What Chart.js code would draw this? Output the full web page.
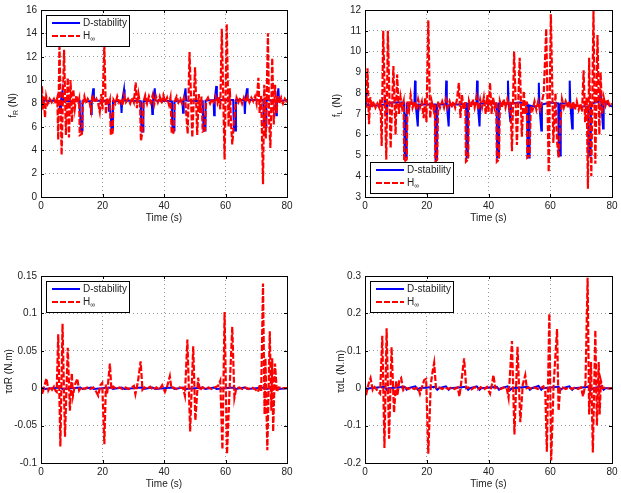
<!DOCTYPE html>
<html><head><meta charset="utf-8">
<script src="https://cdn.jsdelivr.net/npm/chart.js@4"></script>
<style>
body{margin:0;background:#fff;width:621px;height:493px;position:relative;overflow:hidden}
canvas{position:absolute;display:block}
</style></head><body>
<canvas id="c1" width="310" height="240" style="left:0px;top:0px"></canvas>
<canvas id="c2" width="297" height="240" style="left:324px;top:0px"></canvas>
<canvas id="c3" width="310" height="227" style="left:0px;top:266px"></canvas>
<canvas id="c4" width="297" height="227" style="left:324px;top:266px"></canvas>
<script>
// ---------- DATA ----------
const seriesNames = ['D-stability', 'H∞'];
const xTicks = [0, 20, 40, 60, 80];
const fR_yTicks = [0, 2, 4, 6, 8, 10, 12, 14, 16];
const fL_yTicks = [3, 4, 5, 6, 7, 8, 9, 10, 11, 12];
const tR_yTicks = [-0.1, -0.05, 0, 0.05, 0.1, 0.15];
const tL_yTicks = [-0.2, -0.1, 0, 0.1, 0.2, 0.3];

// f_R : [time (s), value (N)]
const fR_Dstab = [[0,7.6],[0.2,8.7],[0.5,8.1],[1.2,8.3],[2,8.2],[4,8.25],[6.0,8.2],[6.3,7.2],[6.5,8.3],[7.0,9.1],[7.2,8.2],[9,8.2],[12.5,8.25],[12.6,7.3],[12.8,6.9],[13.0,5.7],[13.4,5.7],[13.5,8.2],[16.1,8.2],[16.3,7.1],[16.5,8.2],[17.0,9.3],[17.2,8.25],[22.0,8.2],[22.1,7.3],[22.3,8.1],[22.7,7.0],[22.9,5.8],[23.3,5.8],[23.4,8.2],[26.0,8.2],[26.2,7.2],[26.4,8.2],[27.0,9.2],[27.2,8.25],[32.4,8.2],[32.5,7.1],[32.7,5.6],[33.2,5.6],[33.3,8.2],[36.0,8.2],[36.2,7.1],[36.4,8.2],[37.0,9.3],[37.2,8.25],[42.5,8.2],[42.6,7.0],[42.8,5.7],[43.3,5.7],[43.4,8.2],[46.0,8.2],[46.2,7.2],[46.4,8.2],[47.0,9.3],[47.2,8.25],[52.6,8.2],[52.7,7.0],[52.9,5.7],[53.4,5.7],[53.5,8.25],[56.1,8.3],[56.3,7.0],[56.5,8.3],[57.0,9.5],[57.2,8.3],[62.5,8.3],[62.6,7.0],[62.8,5.7],[63.3,5.7],[63.4,8.3],[66.1,8.3],[66.3,7.1],[66.5,8.3],[67.0,9.3],[67.2,8.3],[72.3,8.3],[72.4,7.0],[72.7,6.0],[73.2,6.0],[73.3,8.3],[76.3,8.2],[76.5,7.0],[76.7,8.2],[77.2,9.3],[77.4,8.2],[80,8.3]];
const fR_Hinf = [[0,7.6],[0.3,9.5],[0.6,7.5],[0.9,8.6],[1.3,6.8],[1.7,8.6],[2.2,8.0],[2.8,8.4],[3.5,8.1],[4.2,8.4],[4.8,8.0],[5.3,8.5],[5.6,4.9],[6.0,13.2],[6.7,3.6],[7.5,12.6],[8.1,5.3],[8.7,10.2],[9.1,5.1],[9.6,10.0],[10.1,6.4],[10.5,9.2],[11.0,7.6],[11.5,8.7],[12.0,8.0],[12.4,8.4],[12.6,5.3],[13.3,5.4],[13.6,8.0],[14.1,8.6],[14.6,8.0],[15.2,8.4],[15.8,8.1],[16.3,7.4],[16.7,8.7],[17.3,8.1],[18.0,8.4],[18.6,8.0],[19.1,7.3],[19.6,8.8],[20.0,7.5],[20.6,13.0],[21.1,7.1],[21.5,8.5],[22.0,7.9],[22.4,8.3],[22.7,5.3],[23.3,5.5],[23.6,8.3],[24.2,8.0],[24.8,8.6],[25.4,8.1],[26.0,8.4],[26.5,7.8],[27.0,8.7],[27.6,8.1],[28.3,8.4],[29.0,8.0],[29.6,8.5],[30.2,8.1],[30.8,9.8],[31.2,7.6],[31.7,8.8],[32.2,8.0],[32.5,4.8],[33.0,5.6],[33.4,8.2],[33.9,8.7],[34.5,8.0],[35.1,8.6],[35.7,8.1],[36.3,8.7],[36.8,7.9],[37.4,8.6],[38.0,8.1],[38.6,8.6],[39.2,8.0],[39.8,8.7],[40.4,8.1],[41.0,8.5],[41.6,7.9],[42.1,8.5],[42.5,5.4],[43.1,5.5],[43.5,8.2],[44.1,8.6],[44.7,8.1],[45.3,8.4],[45.9,8.0],[46.5,8.5],[47.0,8.0],[47.7,5.4],[48.3,12.4],[49.2,5.1],[50.1,11.1],[50.8,5.3],[51.3,8.8],[51.7,7.2],[52.2,8.6],[52.6,5.6],[53.3,5.7],[53.7,8.2],[54.3,8.5],[55.0,8.0],[55.6,8.4],[56.2,8.1],[56.8,8.6],[57.4,8.0],[58.0,8.6],[58.3,7.5],[58.8,14.4],[59.7,3.2],[60.4,14.8],[61.0,6.0],[61.4,9.3],[61.8,6.3],[62.2,4.5],[62.7,6.2],[63.2,7.6],[63.6,8.5],[64.2,8.1],[64.8,8.5],[65.4,8.0],[66.0,8.5],[66.6,8.1],[67.2,8.6],[67.8,8.1],[68.4,8.5],[69.0,8.2],[69.6,8.6],[70.1,8.0],[70.7,10.2],[71.1,7.2],[71.6,8.7],[72.2,1.1],[72.6,9.6],[73.1,5.0],[73.8,14.0],[74.2,6.5],[74.6,4.2],[75.2,11.9],[75.7,6.2],[76.1,9.6],[76.6,7.2],[77.0,8.7],[77.5,8.0],[78.1,8.5],[78.7,8.0],[79.3,8.4],[80,8.1]];

// f_L : [time (s), value (N)]
const fL_Dstab = [[0,8.0],[0.3,7.45],[1.5,7.4],[4,7.4],[6.2,7.45],[6.4,7.9],[6.6,7.5],[7.1,7.0],[7.3,7.5],[9,7.55],[12.6,7.55],[12.7,7.0],[12.8,6.5],[12.9,4.9],[13.4,4.9],[13.5,7.5],[16.0,7.5],[16.2,8.6],[16.4,7.5],[17.1,6.4],[17.3,7.45],[20,7.45],[22.7,7.45],[22.8,6.9],[22.9,4.8],[23.3,4.8],[23.4,7.45],[26.1,7.45],[26.3,8.6],[26.5,7.45],[27.1,6.4],[27.3,7.45],[30,7.45],[32.7,7.5],[32.8,6.8],[32.9,4.9],[33.3,4.9],[33.4,7.5],[36.1,7.5],[36.3,8.6],[36.5,7.5],[37.1,6.4],[37.3,7.5],[42.6,7.5],[42.7,6.8],[42.8,4.9],[43.3,4.9],[43.4,7.5],[46.1,7.5],[46.3,8.6],[46.5,7.5],[47.1,6.6],[47.3,7.5],[50,7.55],[52.5,7.5],[52.6,6.8],[52.7,4.9],[53.2,4.9],[53.3,7.4],[55,7.35],[56.1,7.4],[56.3,8.5],[56.5,7.4],[57.1,6.2],[57.3,7.45],[60,7.55],[62.6,7.5],[62.7,6.8],[62.8,5.0],[63.3,5.0],[63.4,7.5],[66.1,7.5],[66.3,8.6],[66.5,7.5],[67.1,6.3],[67.3,7.45],[70,7.35],[72.3,7.35],[72.4,6.5],[72.6,5.0],[73.1,5.0],[73.2,7.5],[76.1,7.6],[76.3,8.1],[76.5,7.6],[77.1,6.3],[77.3,7.6],[80,7.35]];
const fL_Hinf = [[0,7.8],[0.4,7.3],[0.8,9.2],[1.3,6.5],[1.7,7.8],[2.2,7.3],[2.8,7.6],[3.4,7.3],[4.0,7.5],[4.6,7.3],[5.0,7.7],[5.4,5.45],[5.9,11.0],[6.9,4.8],[7.4,11.0],[8.3,5.35],[9.2,9.3],[9.9,6.0],[10.4,8.9],[11.0,7.0],[11.5,7.8],[12.0,7.3],[12.5,7.6],[12.7,4.7],[13.5,4.8],[13.8,7.6],[14.3,7.2],[14.8,7.9],[15.4,7.3],[16.0,7.6],[16.6,7.2],[17.2,7.7],[17.8,7.3],[18.4,7.6],[19.0,6.8],[19.5,7.8],[19.9,6.6],[20.5,11.5],[21.1,6.8],[21.6,7.6],[22.2,7.2],[22.6,7.5],[22.8,4.7],[23.4,4.8],[23.7,7.6],[24.3,7.3],[25.0,7.6],[25.6,7.3],[26.2,7.7],[26.8,7.3],[27.4,7.6],[28.0,7.3],[28.6,7.6],[29.2,7.3],[29.8,7.7],[30.4,8.5],[30.9,6.8],[31.4,7.9],[32.0,7.2],[32.5,7.6],[32.7,4.7],[33.4,4.8],[33.7,7.6],[34.3,7.3],[34.9,7.7],[35.5,7.3],[36.1,7.8],[36.7,7.2],[37.3,7.7],[37.9,7.3],[38.5,7.8],[39.1,7.0],[39.6,7.9],[40.0,7.1],[40.5,8.5],[41.0,7.0],[41.5,7.8],[42.0,7.3],[42.5,7.6],[42.7,4.7],[43.4,4.8],[43.7,7.6],[44.3,7.3],[44.9,7.7],[45.5,7.3],[46.1,7.7],[46.7,7.3],[47.1,7.6],[47.6,5.2],[48.3,10.0],[49.2,5.5],[50.1,9.7],[50.8,5.9],[51.4,8.1],[51.9,7.0],[52.4,7.6],[52.6,4.9],[53.3,5.0],[53.7,7.4],[54.3,7.2],[54.9,7.6],[55.5,7.2],[56.1,7.6],[56.7,7.2],[57.3,7.6],[57.9,8.0],[58.7,11.1],[59.5,4.2],[60.2,11.8],[61.0,5.6],[61.7,8.0],[62.2,5.7],[62.7,4.9],[63.3,6.6],[63.8,7.7],[64.4,7.3],[65.0,7.6],[65.6,7.3],[66.2,7.6],[66.8,7.2],[67.4,7.6],[68.0,7.2],[68.6,7.6],[69.2,7.2],[69.8,7.5],[70.3,7.1],[70.8,9.1],[71.3,6.6],[71.8,7.8],[72.2,3.4],[72.6,9.7],[73.3,4.0],[74.0,12.0],[74.6,4.6],[75.3,10.8],[75.9,6.0],[76.3,9.0],[76.8,7.0],[77.3,7.8],[77.9,7.4],[78.5,7.7],[79.2,7.4],[80,7.5]];

// tau_alpha R : [time (s), value (N.m)]
const tR_Dstab = [[0,0.001],[1,-0.001],[6.3,0.001],[7,-0.001],[12.8,0.001],[13.5,-0.001],[16.3,0.001],[17.1,-0.001],[22.7,0.001],[23.4,-0.001],[26.2,0.001],[27.1,-0.001],[32.7,0.001],[33.4,-0.001],[36.2,0.001],[37.1,-0.001],[42.7,0.001],[43.4,-0.001],[46.2,0.001],[47.1,-0.001],[52.7,0.001],[53.4,-0.001],[56.2,0.001],[57.1,-0.001],[62.7,0.001],[63.4,-0.001],[66.2,0.001],[67.1,-0.001],[72.6,0.001],[73.3,-0.001],[76.4,0.001],[77.3,-0.001],[80,0]];
const tR_Hinf = [[0,0],[0.5,-0.008],[1.0,0.002],[1.8,0.013],[2.4,-0.003],[3.0,0.002],[3.6,-0.002],[4.2,0.002],[4.8,-0.004],[5.1,-0.005],[5.6,0.072],[6.3,-0.078],[7.0,0.086],[7.8,-0.065],[8.7,0.054],[9.4,-0.03],[10.0,0.02],[10.4,-0.01],[11.0,0.004],[11.8,0.013],[12.4,-0.003],[13.0,0.001],[14,-0.001],[15,0.001],[16,-0.001],[17,0.001],[18.0,-0.005],[18.6,-0.01],[19.3,0.004],[19.9,0.007],[20.6,-0.075],[21.1,0.005],[21.5,-0.008],[22.4,0.033],[22.9,-0.002],[23.5,0.002],[24.5,-0.001],[25.5,0.001],[26.5,-0.001],[27.5,0.001],[28.5,-0.001],[29.5,0.001],[30.2,0.003],[30.7,-0.008],[31.5,0.008],[32.4,0.036],[33.0,-0.002],[33.6,0.001],[34.5,-0.001],[35.5,0.002],[36.5,-0.002],[37.5,0.001],[38.5,-0.002],[39.4,0.004],[40.3,-0.005],[41.0,0.002],[41.9,0.016],[42.4,0],[43.0,0.001],[44,-0.001],[45,0.001],[46.2,0],[46.8,-0.01],[47.6,0.065],[48.5,-0.058],[49.5,0.056],[50.2,-0.043],[51.1,0.014],[51.6,-0.003],[52.5,0.001],[53.5,-0.001],[54.5,0.001],[55.5,-0.001],[56.5,0.001],[57.6,0.003],[58.3,0.01],[59.0,-0.082],[59.7,0.102],[60.5,-0.088],[61.4,0.005],[62.2,0.082],[62.9,-0.013],[63.5,0],[64.5,0.001],[65.5,-0.001],[66.5,0.001],[67.5,-0.001],[68.5,0.001],[69.5,-0.001],[70.6,-0.005],[71.1,0.005],[71.6,-0.005],[72.2,0.14],[72.7,-0.035],[73.0,0.04],[73.6,-0.083],[74.4,0.076],[74.9,-0.03],[75.2,0.04],[75.5,-0.058],[76.1,0.033],[76.7,-0.005],[77.3,0.001],[78.5,0],[80,0]];

// tau_alpha L : [time (s), value (N.m)]
const tL_Dstab = [[0,0.004],[0.5,-0.004],[1.5,0],[6.3,0.004],[7,-0.004],[7.5,0],[12.8,0.004],[13.5,-0.004],[14,0],[16.3,0.005],[17.1,-0.004],[17.6,0],[22.7,0.004],[23.4,-0.004],[24,0],[26.2,0.005],[27.1,-0.004],[27.6,0],[32.7,0.004],[33.4,-0.004],[34,0],[36.2,0.005],[37.1,-0.004],[37.6,0],[42.7,0.004],[43.4,-0.004],[44,0],[46.2,0.005],[47.1,-0.004],[47.6,0],[52.7,0.004],[53.4,-0.004],[54,0],[56.2,0.006],[57.1,-0.004],[57.6,0],[62.7,0.004],[63.4,-0.004],[64,0],[66.2,0.005],[67.1,-0.004],[67.6,0],[72.6,0.004],[73.3,-0.004],[74,0],[76.4,0.005],[77.3,-0.004],[77.8,0],[80,0]];
const tL_Hinf = [[0,0],[0.3,-0.02],[1.1,0.01],[1.8,0.027],[2.5,-0.005],[3.1,0.003],[3.7,-0.003],[4.3,-0.01],[4.9,-0.015],[5.6,0.14],[6.3,-0.16],[7.0,0.16],[7.8,-0.135],[8.6,0.11],[9.4,-0.065],[10.1,0.02],[10.5,-0.02],[11.1,0.02],[11.7,0.027],[12.4,-0.005],[13.0,0.002],[14,-0.002],[15,0.002],[16,-0.002],[17.2,0.002],[17.8,-0.015],[18.5,0.005],[19.2,0.022],[19.8,0.025],[20.5,-0.175],[21.3,0.01],[21.9,0.045],[22.4,0.068],[23.0,0],[24,0.002],[25,-0.002],[26,0.002],[27,-0.002],[28,0.002],[29,-0.002],[30.0,0.002],[30.6,-0.022],[31.4,0.03],[32.1,0.08],[32.8,0],[33.5,0.002],[34.5,-0.003],[35.5,0.003],[36.5,-0.003],[37.5,0.003],[38.5,-0.004],[39.5,0.003],[40.5,-0.015],[41.1,0.01],[41.6,0.035],[42.2,0],[43,0.002],[44,-0.002],[45,0.002],[45.9,0],[46.5,-0.026],[47.6,0.126],[48.4,-0.124],[49.4,0.111],[50.3,-0.091],[51.1,0.01],[51.9,0.035],[52.4,0],[53,0.002],[54,-0.002],[55,0.002],[56,-0.002],[57.2,0.002],[57.8,0.005],[58.4,-0.01],[58.9,-0.17],[59.7,0.2],[60.3,-0.193],[61.1,0.01],[62.2,0.158],[62.7,-0.06],[63.2,0],[64,0.002],[65,-0.002],[66,0.002],[67,-0.002],[68,0.002],[69,-0.002],[70,0.002],[70.6,-0.022],[71.4,0.01],[72.1,0.295],[72.6,-0.07],[73.2,0.07],[73.8,-0.172],[74.6,0.155],[75.1,-0.1],[75.7,0.07],[76.0,-0.07],[76.4,0.02],[77.0,0],[78,0.002],[79,-0.001],[80,0]];

// ---------- RENDERING ----------
const FONT = '"Liberation Sans", Arial, Helvetica, sans-serif';
const BLUE = '#0000ff', RED = '#ff0000';
Chart.defaults.font.family = FONT;
Chart.defaults.font.size = 10;
Chart.defaults.color = '#222';

function toXY(arr) { return arr.map(p => ({x: p[0], y: p[1]})); }

function drawSubText(ctx, x, y, main, sub, after, size) {
  ctx.font = size + 'px ' + FONT;
  ctx.fillText(main, x, y);
  const w1 = ctx.measureText(main).width;
  ctx.font = Math.round(size * 0.72) + 'px ' + FONT;
  ctx.fillText(sub, x + w1, y + 3);
  const w2 = ctx.measureText(sub).width;
  ctx.font = size + 'px ' + FONT;
  ctx.fillText(after, x + w1 + w2, y);
}
function subTextWidth(ctx, main, sub, after, size) {
  ctx.font = size + 'px ' + FONT;
  const a = ctx.measureText(main).width + ctx.measureText(after).width;
  ctx.font = Math.round(size * 0.72) + 'px ' + FONT;
  return a + ctx.measureText(sub).width;
}

const framePlugin = {
  id: 'frame',
  afterDraw(chart, args, opts) {
    const ctx = chart.ctx, ca = chart.chartArea;
    ctx.save();
    ctx.strokeStyle = '#000'; ctx.lineWidth = 1;
    const xs = chart.scales.x, ys = chart.scales.y;
    ctx.beginPath();
    xs.ticks.forEach(t => {
      const px = Math.round(xs.getPixelForValue(t.value)) + 0.5;
      ctx.moveTo(px, ca.bottom); ctx.lineTo(px, ca.bottom - 3);
      ctx.moveTo(px, ca.top); ctx.lineTo(px, ca.top + 3);
    });
    ys.ticks.forEach(t => {
      const py = Math.round(ys.getPixelForValue(t.value)) + 0.5;
      ctx.moveTo(ca.left, py); ctx.lineTo(ca.left + 3, py);
      ctx.moveTo(ca.right, py); ctx.lineTo(ca.right - 3, py);
    });
    ctx.stroke();
    ctx.strokeRect(Math.round(ca.left) + 0.5, Math.round(ca.top) + 0.5,
                   Math.round(ca.right - ca.left), Math.round(ca.bottom - ca.top));
    ctx.fillStyle = '#222';
    ctx.textBaseline = 'middle';
    ctx.textAlign = 'left';
    const yl = opts.ylabel;
    const w = subTextWidth(ctx, yl[0], yl[1], yl[2], 10);
    ctx.save();
    ctx.translate(opts.ylabelX, (ca.top + ca.bottom) / 2 + 2);
    ctx.rotate(-Math.PI / 2);
    drawSubText(ctx, -w / 2, 0, yl[0], yl[1], yl[2], 10);
    ctx.restore();
    const bw = 83, bh = 31;
    const bx = Math.round(ca.left) + 5;
    const by = opts.legendPos === 'top' ? Math.round(ca.top) + 5 : Math.round(ca.bottom) - 4 - bh;
    ctx.fillStyle = '#fff';
    ctx.fillRect(bx, by, bw, bh);
    ctx.strokeStyle = '#000'; ctx.lineWidth = 1;
    ctx.strokeRect(bx + 0.5, by + 0.5, bw, bh);
    const y1 = by + 8, y2 = by + 21;
    ctx.lineWidth = 2;
    ctx.strokeStyle = BLUE; ctx.setLineDash([]);
    ctx.beginPath(); ctx.moveTo(bx + 6, y1); ctx.lineTo(bx + 34, y1); ctx.stroke();
    ctx.strokeStyle = RED; ctx.setLineDash([6, 2]);
    ctx.beginPath(); ctx.moveTo(bx + 6, y2); ctx.lineTo(bx + 34, y2); ctx.stroke();
    ctx.setLineDash([]);
    ctx.fillStyle = '#222';
    ctx.font = '10px ' + FONT;
    ctx.fillText(seriesNames[0], bx + 37, y1);
    drawSubText(ctx, bx + 37, y2, seriesNames[1].charAt(0), seriesNames[1].slice(1), '', 10);
    ctx.restore();
  }
};

function makeChart(id, blue, red, yTicks, ymin, ymax, padRight, padBottom, ylabel, ylabelX, legendPos, decimals) {
  return new Chart(document.getElementById(id), {
    type: 'line',
    data: {
      datasets: [
        {label: seriesNames[1], data: toXY(red), borderColor: RED, borderWidth: 2.2, borderDash: [6, 2],
         pointRadius: 0, tension: 0, fill: false},
        {label: seriesNames[0], data: toXY(blue), borderColor: BLUE, borderWidth: 2,
         pointRadius: 0, tension: 0, fill: false}
      ]
    },
    options: {
      responsive: false, animation: false, devicePixelRatio: 1,
      layout: {padding: {top: 6, left: 0, right: padRight, bottom: padBottom}},
      plugins: {legend: {display: false}, tooltip: {enabled: false},
                frame: {ylabel: ylabel, ylabelX: ylabelX, legendPos: legendPos}},
      scales: {
        x: {type: 'linear', min: 0, max: 80,
            afterBuildTicks: s => { s.ticks = xTicks.map(v => ({value: v})); },
            afterFit: s => { s.height = 29; },
            ticks: {padding: 3, maxRotation: 0, color: '#222', callback: v => String(v)},
            grid: {color: 'rgba(0,0,0,0.4)', lineWidth: 1, drawTicks: false, tickLength: 0},
            border: {display: false, dash: [1, 3]},
            title: {display: true, text: 'Time (s)', color: '#222', font: {size: 10}, padding: {top: 0, bottom: 2}}},
        y: {type: 'linear', min: ymin, max: ymax,
            afterBuildTicks: s => { s.ticks = yTicks.map(v => ({value: v})); },
            afterFit: s => { s.width = 41; },
            ticks: {padding: 4, color: '#222', callback: v => String(Number(v.toFixed(decimals)))},
            grid: {color: 'rgba(0,0,0,0.4)', lineWidth: 1, drawTicks: false, tickLength: 0},
            border: {display: false, dash: [1, 3]}}
      }
    },
    plugins: [framePlugin]
  });
}

makeChart('c1', fR_Dstab, fR_Hinf, fR_yTicks, 0, 16, 23, 14, ['f', 'R', ' (N)'], 13, 'top', 0);
makeChart('c2', fL_Dstab, fL_Hinf, fL_yTicks, 3, 12, 9, 14, ['f', 'L', ' (N)'], 13, 'bottom', 0);
makeChart('c3', tR_Dstab, tR_Hinf, tR_yTicks, -0.1, 0.15, 23, 1, ['ταR (N.m)', '', ''], 9, 'top', 2);
makeChart('c4', tL_Dstab, tL_Hinf, tL_yTicks, -0.2, 0.3, 9, 1, ['ταL (N.m)', '', ''], 17, 'top', 1);
</script>
</body></html>
